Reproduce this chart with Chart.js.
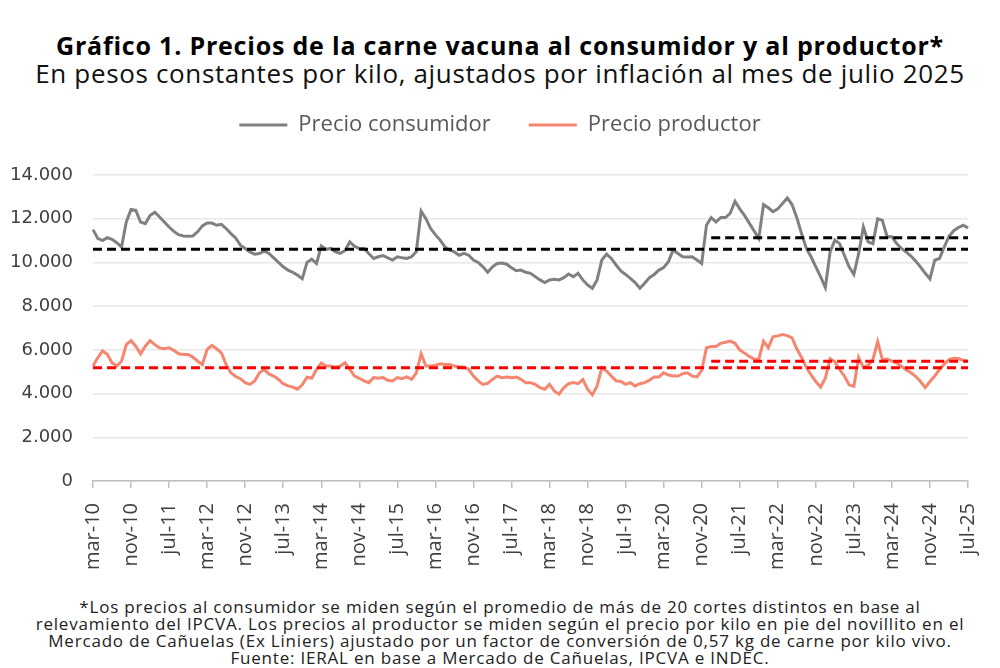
<!DOCTYPE html>
<html lang="es">
<head>
<meta charset="utf-8">
<title>Precios de la carne vacuna</title>
<script src="https://cdn.jsdelivr.net/npm/chart.js@4.4.1/dist/chart.umd.min.js"></script>
<style>
  html, body { margin: 0; padding: 0; background: #fff; }
  body { width: 1000px; height: 668px; position: relative; overflow: hidden; font-family: "Open Sans", sans-serif; }
  #titulo { position: absolute; top: 28px; left: 0; width: 1000px; text-align: center; font-weight: 700; font-size: 25px; letter-spacing: 0.8px; color: #000; }
  #subtitulo { position: absolute; top: 55px; left: 0; width: 1000px; text-align: center; font-size: 26px; letter-spacing: 0.65px; color: #111; }
  #grafico { position: absolute; top: 76px; left: 0; width: 1000px; height: 504px; }
  #nota { position: absolute; top: 598px; left: 0; width: 1000px; text-align: center; font-size: 17px; letter-spacing: 0.8px; line-height: 17px; color: #222; }
</style>
</head>
<body>
<div id="titulo">Gráfico 1. Precios de la carne vacuna al consumidor y al productor*</div>
<div id="subtitulo">En pesos constantes por kilo, ajustados por inflación al mes de julio 2025</div>
<div id="grafico"><canvas id="lienzo"></canvas></div>
<div id="nota">*Los precios al consumidor se miden según el promedio de más de 20 cortes distintos en base al<br>relevamiento del IPCVA. Los precios al productor se miden según el precio por kilo en pie del novillito en el<br>Mercado de Cañuelas (Ex Liniers) ajustado por un factor de conversión de 0,57 kg de carne por kilo vivo.<br>Fuente: IERAL en base a Mercado de Cañuelas, IPCVA e INDEC.</div>
<script>
// meses desde mar-10 hasta jul-25
const mesesAbrev = ['ene', 'feb', 'mar', 'abr', 'may', 'jun', 'jul', 'ago', 'sep', 'oct', 'nov', 'dic'];
const anioInicio = 2010;
const mesInicio = 2; // marzo
const cantidadMeses = 185;
const pasoEtiquetas = 8;

// pesos constantes por kilo (julio 2025)
const precioConsumidor = [
  11500, 11100, 11000, 11130, 11060, 10900, 10700, 11850, 12420, 12380,
  11850, 11770, 12150, 12300, 12080, 11850, 11620, 11420, 11270, 11210,
  11200, 11210, 11400, 11670, 11800, 11800, 11700, 11740, 11550, 11320,
  11120, 10790, 10640, 10480, 10380, 10410, 10520, 10410, 10210, 10000,
  9800, 9650, 9550, 9420, 9250, 10000, 10150, 9950, 10750, 10600,
  10640, 10480, 10410, 10550, 10940, 10740, 10640, 10640, 10410, 10180,
  10260, 10310, 10210, 10110, 10260, 10210, 10180, 10260, 10500, 12350,
  12000, 11550, 11270, 11020, 10710, 10560, 10480, 10330, 10410, 10330,
  10110, 10000, 9800, 9550, 9800, 9950, 9970, 9920, 9760, 9620,
  9650, 9550, 9500, 9350, 9200, 9080, 9200, 9230, 9200, 9300,
  9470, 9350, 9500, 9200, 8970, 8820, 9200, 10110, 10380, 10180,
  9880, 9610, 9450, 9270, 9080, 8820, 9050, 9300, 9450, 9650,
  9760, 10030, 10570, 10410, 10260, 10250, 10260, 10110, 9950, 11700,
  12050, 11850, 12050, 12050, 12250, 12800, 12450, 12150, 11800, 11450,
  11100, 12650, 12500, 12320, 12450, 12700, 12950, 12650, 12050, 11320,
  10640, 10260, 9800, 9350, 8850, 10480, 11020, 10860, 10330, 9800,
  9450, 10400, 11620, 10940, 10860, 12000, 11920, 11170, 11170, 10860,
  10640, 10480, 10290, 10060, 9800, 9500, 9250, 10100, 10180, 10700,
  11200, 11450, 11600, 11700, 11580
];

const precioProductor = [
  5260, 5640, 5950, 5800, 5410, 5260, 5480, 6240, 6420, 6170,
  5820, 6170, 6420, 6240, 6090, 6050, 6090, 5980, 5820, 5790,
  5790, 5670, 5480, 5330, 6020, 6200, 6050, 5860, 5330, 4950,
  4780, 4680, 4500, 4420, 4580, 4950, 5100, 4900, 4800, 4650,
  4450, 4350, 4300, 4200, 4400, 4750, 4700, 5100, 5400, 5260,
  5260, 5210, 5260, 5410, 5110, 4800, 4700, 4580, 4500, 4730,
  4700, 4730, 4610, 4580, 4730, 4680, 4760, 4650, 4950, 5820,
  5260, 5260, 5300, 5360, 5330, 5330, 5260, 5210, 5210, 5110,
  4800, 4580, 4420, 4470, 4650, 4800, 4730, 4760, 4730, 4760,
  4650, 4500, 4500, 4420, 4270, 4200, 4420, 4120, 3970, 4270,
  4450, 4500, 4450, 4650, 4200, 3940, 4350, 5180, 5030, 4800,
  4580, 4550, 4420, 4500, 4350, 4450, 4500, 4610, 4760, 4760,
  4950, 4850, 4800, 4800, 4910, 4950, 4800, 4760, 5050, 6100,
  6150, 6150, 6300, 6350, 6400, 6300, 6000, 5850, 5700, 5580,
  5560, 6400, 6100, 6600, 6640, 6700, 6650, 6550, 6050, 5650,
  5200, 4850, 4550, 4300, 4700, 5600, 5450, 5100, 4800, 4400,
  4330, 5650, 5200, 5300, 5550, 6380, 5550, 5580, 5480, 5390,
  5250, 5090, 4950, 4790, 4550, 4270, 4550, 4800, 5100, 5350,
  5550, 5620, 5600, 5520, 5480
];

// promedios (líneas punteadas)
const promedioConsumidor = 10600;
const promedioConsumidorReciente = 11130;
const promedioProductor = 5180;
const promedioProductorReciente = 5480;
const inicioPromedioReciente = 'ene-21';

const etiquetas = [];
for (let i = 0; i < cantidadMeses; i++) {
  const m = mesInicio + i;
  const anio = anioInicio + Math.floor(m / 12);
  etiquetas.push(mesesAbrev[m % 12] + '-' + String(anio).slice(-2));
}
const idxReciente = etiquetas.indexOf(inicioPromedioReciente);

const lineaFija = v => etiquetas.map(() => v);
const lineaDesde = v => etiquetas.map((_, i) => (i >= idxReciente ? v : null));

const formatoMiles = v => String(v).replace(/\B(?=(\d{3})+(?!\d))/g, '.');

const punteada = (data, color) => ({
  label: '',
  data: data,
  borderColor: color,
  borderWidth: 3,
  borderDash: [9, 5],
  pointRadius: 0,
  fill: false,
  order: -1
});

// espacio extra bajo la leyenda y leyenda centrada en la página
const margenLeyenda = {
  id: 'margenLeyenda',
  beforeInit(chart) {
    const fitOriginal = chart.legend.fit;
    chart.legend.fit = function () {
      fitOriginal.bind(chart.legend)();
      this.height += 29;
    };
  },
  afterLayout(chart) {
    chart.legend.left += 12;
    chart.legend.right += 12;
  }
};

new Chart(document.getElementById('lienzo'), {
  type: 'line',
  data: {
    labels: etiquetas,
    datasets: [
      {
        label: 'Precio consumidor',
        data: precioConsumidor,
        borderColor: '#808080',
        backgroundColor: '#808080',
        borderWidth: 3,
        pointRadius: 0,
        tension: 0
      },
      {
        label: 'Precio productor',
        data: precioProductor,
        borderColor: '#F5866F',
        backgroundColor: '#F5866F',
        borderWidth: 3,
        pointRadius: 0,
        tension: 0
      },
      punteada(lineaFija(promedioConsumidor), '#000000'),
      punteada(lineaDesde(promedioConsumidorReciente), '#000000'),
      punteada(lineaFija(promedioProductor), '#FF0000'),
      punteada(lineaDesde(promedioProductorReciente), '#FF0000')
    ]
  },
  plugins: [margenLeyenda],
  options: {
    responsive: true,
    maintainAspectRatio: false,
    animation: false,
    layout: { padding: { left: 8, right: 32, top: 0, bottom: 0 } },
    plugins: {
      legend: {
        display: true,
        position: 'top',
        labels: {
          filter: item => item.text !== '',
          usePointStyle: true,
          pointStyle: 'line',
          pointStyleWidth: 48,
          boxHeight: 3,
          padding: 38,
          color: '#595959',
          font: { family: 'Open Sans', size: 22 }
        }
      },
      tooltip: { enabled: false }
    },
    scales: {
      x: {
        offset: false,
        afterBuildTicks: axis => {
          axis.ticks = axis.ticks.filter(t => t.value % pasoEtiquetas === 0);
        },
        afterFit: axis => {
          axis.height = 99;
          axis.paddingRight = 0;
        },
        ticks: {
          autoSkip: false,
          maxRotation: 90,
          minRotation: 90,
          padding: 15,
          color: '#404040',
          font: { family: 'Open Sans', size: 20 },
          callback: function (v) { return this.getLabelForValue(v); }
        },
        grid: { drawOnChartArea: false, drawTicks: true, tickLength: 7, color: '#bfbfbf', lineWidth: 1.5 },
        border: { display: true, color: '#bfbfbf', width: 1.5 }
      },
      y: {
        min: 0,
        max: 14000,
        afterFit: axis => { axis.width = 85; },
        ticks: {
          stepSize: 2000,
          padding: 20,
          color: '#404040',
          font: { family: 'DejaVu Sans', size: 18 },
          callback: v => formatoMiles(v)
        },
        grid: { color: '#e8e8e8', lineWidth: 1.5, drawTicks: false },
        border: { display: false }
      }
    }
  }
});
</script>
</body>
</html>
